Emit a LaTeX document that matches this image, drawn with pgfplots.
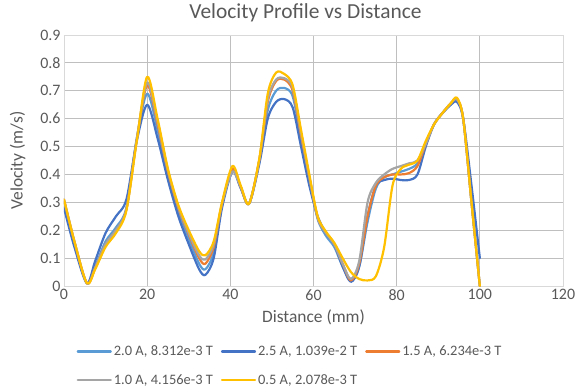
\documentclass[border=0pt]{standalone}
\usepackage{pgfplots}
\usepackage{pgfplotstable}
\pgfplotsset{compat=1.18}
\usepackage{fontspec}
\setmainfont{Carlito}
\definecolor{lblue}{HTML}{5B9BD5}
\definecolor{dblue}{HTML}{4472C4}
\definecolor{orng}{HTML}{ED7D31}
\definecolor{gry}{HTML}{A5A5A5}
\definecolor{yel}{HTML}{FFC000}
\definecolor{txt}{HTML}{595959}
\definecolor{grid}{HTML}{D9D9D9}
\pgfplotstableread{
x    lb     db     or     gr     ye
0    0.30   0.28   0.31   0.31   0.31
2.5  0.15   0.14   0.16   0.16   0.16
5.5  0.01   0.01   0.01   0.01   0.01
7.5  0.07   0.09   0.065  0.065  0.06
10   0.16   0.19   0.15   0.15   0.14
12.5 0.21   0.25   0.20   0.20   0.19
15   0.28   0.31   0.275  0.275  0.27
17.5 0.53   0.52   0.525  0.525  0.52
20   0.69   0.65   0.72   0.73   0.75
22.5 0.56   0.53   0.58   0.59   0.60
25   0.40   0.38   0.41   0.415  0.42
27.5 0.27   0.25   0.28   0.285  0.29
30   0.17   0.15   0.185  0.19   0.20
32.5 0.08   0.06   0.10   0.11   0.125
34   0.06   0.04   0.08   0.095  0.11
36   0.12   0.10   0.14   0.15   0.16
38   0.29   0.28   0.295  0.295  0.30
40.5 0.42   0.41   0.42   0.41   0.43
42.5 0.355  0.35   0.355  0.355  0.36
44.5 0.295  0.295  0.295  0.295  0.295
47   0.45   0.44   0.455  0.455  0.46
49   0.63   0.60   0.66   0.67   0.69
51   0.70   0.66   0.735  0.74   0.765
53   0.71   0.67   0.74   0.745  0.76
55   0.68   0.64   0.70   0.71   0.72
57   0.53   0.50   0.54   0.55   0.56
59   0.38   0.36   0.39   0.39   0.40
61   0.24   0.25   0.245  0.245  0.25
63   0.18   0.19   0.19   0.19   0.195
65   0.14   0.15   0.15   0.15   0.155
67   0.07   0.07   0.08   0.08   0.10
69   0.02   0.015  0.02   0.025  0.05
71   0.07   0.07   0.08   0.09   0.025
73   0.23   0.25   0.25   0.30   0.02
75   0.35   0.36   0.36   0.37   0.035
77   0.39   0.38   0.39   0.40   0.14
79   0.40   0.385  0.40   0.42   0.36
81   0.41   0.38   0.40   0.43   0.42
83   0.42   0.38   0.405  0.44   0.435
85   0.44   0.40   0.43   0.45   0.45
87   0.51   0.50   0.51   0.51   0.52
89   0.58   0.58   0.58   0.58   0.58
91   0.62   0.62   0.62   0.62   0.62
93   0.65   0.65   0.655  0.655  0.655
94.5 0.665  0.66   0.67   0.67   0.675
96   0.60   0.60   0.60   0.60   0.60
98   0.30   0.36   0.30   0.30   0.30
100  0.0    0.10   0.0    0.0    0.0
}\data
\begin{document}
\begin{tikzpicture}
\useasboundingbox (-64bp,-106bp) rectangle (516bp,286bp);
\begin{axis}[
  scale only axis,
  width=499bp, height=251bp,
  xmin=0, xmax=120, ymin=0, ymax=0.9,
  xtick={0,20,...,120},
  ytick={0,0.1,...,0.9},
  yticklabel style={/pgf/number format/fixed, /pgf/number format/precision=1},
  /pgf/number format/assume math mode=true,
  grid=major,
  major grid style={grid, line width=0.8bp},
  axis line style={grid, line width=0.8bp},
  tick style={draw=none},
  ticklabel style={font=\fontsize{16}{18}\selectfont, text=txt},
  title={Velocity Profile vs Distance},
  title style={font=\fontsize{21.5}{24}\selectfont, text=txt, at={(0.5,1)}, anchor=south, yshift=4bp, xshift=-8bp},
  xlabel={Distance (mm)},
  ylabel={Velocity (m/s)},
  label style={font=\fontsize{17.5}{19}\selectfont, text=txt},
  xlabel style={yshift=-2bp},
  ylabel style={yshift=8bp},
  legend columns=3,
  legend cell align=left,
  legend style={at={(0.453,-0.222)}, anchor=north, draw=none, fill=none,
    font=\fontsize{14.5}{16}\selectfont, text=txt,
    /tikz/every even column/.append style={column sep=6bp},
    row sep=13bp},
  legend image code/.code={\draw[#1, line width=2.2bp] (0bp,0bp) -- (33bp,0bp);},
  every axis plot/.append style={smooth, line width=2.2bp, line cap=round, line join=round},
]
\addplot[lblue] table[x=x, y=lb] {\data};
\addlegendentry{2.0 A, 8.312e-3 T}
\addplot[dblue] table[x=x, y=db] {\data};
\addlegendentry{2.5 A, 1.039e-2 T}
\addplot[orng] table[x=x, y=or] {\data};
\addlegendentry{1.5 A, 6.234e-3 T}
\addplot[gry] table[x=x, y=gr] {\data};
\addlegendentry{1.0 A, 4.156e-3 T}
\addplot[yel] table[x=x, y=ye] {\data};
\addlegendentry{0.5 A, 2.078e-3 T}
\end{axis}
\end{tikzpicture}
\end{document}
